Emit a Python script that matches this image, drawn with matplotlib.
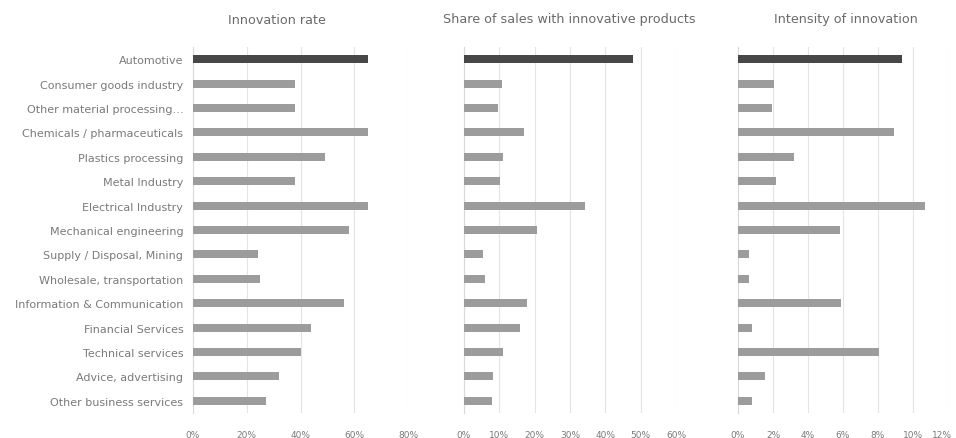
import matplotlib.pyplot as plt
import matplotlib.transforms as mtransforms
from matplotlib.ticker import FuncFormatter

plt.rcParams["font.family"] = ["Liberation Sans Narrow", "DejaVu Sans"]

# 行业
sectors = [
    "Automotive",
    "Consumer goods industry",
    "Other material processing…",
    "Chemicals / pharmaceuticals",
    "Plastics processing",
    "Metal Industry",
    "Electrical Industry",
    "Mechanical engineering",
    "Supply / Disposal, Mining",
    "Wholesale, transportation",
    "Information & Communication",
    "Financial Services",
    "Technical services",
    "Advice, advertising",
    "Other business services",
]
innovation_rate = [0.65, 0.38, 0.38, 0.65, 0.49, 0.38, 0.65, 0.58, 0.24, 0.25, 0.56, 0.44, 0.40, 0.32, 0.27]
sales_share = [0.477, 0.107, 0.097, 0.17, 0.11, 0.102, 0.342, 0.208, 0.055, 0.06, 0.177, 0.158, 0.11, 0.083, 0.078]
intensity = [0.0937, 0.0208, 0.0194, 0.089, 0.0318, 0.0219, 0.1067, 0.058, 0.006, 0.006, 0.059, 0.008, 0.0804, 0.0156, 0.008]

titles = ["Innovation rate", "Share of sales with innovative products", "Intensity of innovation"]
limits = [0.8, 0.6, 0.12]
steps = [0.2, 0.1, 0.02]
title_x = [277, 569, 846]

fig = plt.figure(figsize=(9.56, 4.39), dpi=100)
W, H = 956, 439
boxes = [(193, 408), (464, 676), (738, 948)]
top, bottom = 48, 414

text_col = "#7a7a7a"
colors = ["#474747"] + ["#9c9c9c"] * (len(sectors) - 1)

for i, data in enumerate([innovation_rate, sales_share, intensity]):
    x0, x1 = boxes[i]
    ax = fig.add_axes([x0 / W, 1 - bottom / H, (x1 - x0) / W, (bottom - top) / H])
    ax.barh(range(len(sectors)), data, height=0.33, color=colors, zorder=3)
    ax.set_ylim(len(sectors) - 0.5, -0.5)
    ax.set_xlim(0, limits[i])
    n = int(round(limits[i] / steps[i]))
    ax.set_xticks([k * steps[i] for k in range(n + 1)])
    ax.xaxis.set_major_formatter(FuncFormatter(lambda v, p: f"{v * 100:.0f}%"))
    ax.set_yticks(range(len(sectors)))
    if i == 0:
        ax.set_yticklabels(sectors)
    else:
        ax.set_yticklabels([])
    ax.tick_params(length=0, colors=text_col)
    ax.tick_params(axis="x", pad=12, labelsize=6.5)
    ax.tick_params(axis="y", pad=7, labelsize=8)
    ax.grid(axis="x", color="#e4e4e4", linewidth=0.8, zorder=0)
    for s in ["top", "right", "bottom"]:
        ax.spines[s].set_visible(False)
    ax.spines["left"].set_color("#d9d9d9")
    ax.spines["left"].set_linewidth(0.8)
    fig.text(title_x[i] / W, 1 - 20 / H, titles[i], ha="center", va="center",
             fontsize=9.2, color="#6a6a6a")
    if i == 2:
        # 最后一个刻度标签贴着右边缘，稍微左移
        last = ax.get_xticklabels()[-1]
        last.set_transform(last.get_transform() + mtransforms.ScaledTranslation(-4 / 72, 0, fig.dpi_scale_trans))

plt.savefig("out.png", dpi=100)
